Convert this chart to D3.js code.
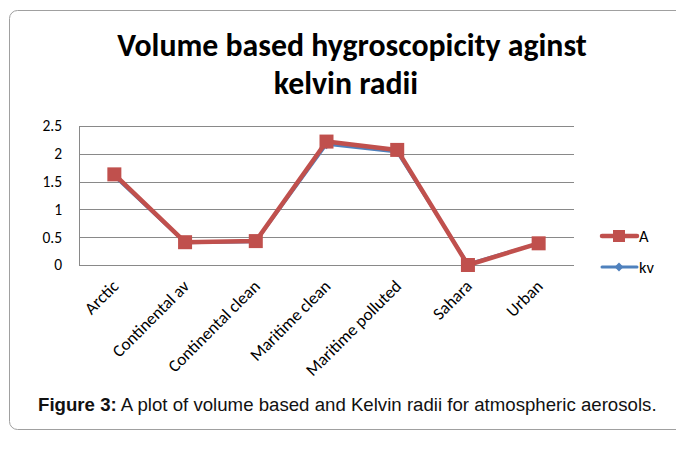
<!DOCTYPE html>
<html>
<head>
<meta charset="utf-8">
<script src="https://cdn.jsdelivr.net/npm/d3@7"></script>
<style>
  body { margin: 0; background: #fff; }
  svg { display: block; }
</style>
</head>
<body>
<div id="chart"></div>
<script>
const categories = ['Arctic', 'Continental av', 'Continental clean', 'Maritime clean', 'Maritime polluted', 'Sahara', 'Urban'];
const seriesA = [1.63, 0.41, 0.43, 2.22, 2.07, 0.0, 0.39];
const seriesKv = [1.60, 0.40, 0.42, 2.17, 2.03, 0.02, 0.39];
const yTicks = [0, 0.5, 1, 1.5, 2, 2.5];

const width = 676, height = 457;
const margin = { left: 79, right: 574, top: 126, bottom: 265 };
const red = '#C0504D', blue = '#4F81BD';
const font = 'Carlito, Open Sans, sans-serif';

const svg = d3.select('#chart').append('svg')
    .attr('width', width)
    .attr('height', height);

// outer frame
svg.append('rect')
    .attr('x', 9.5).attr('y', 10.5)
    .attr('width', 700).attr('height', 419)
    .attr('rx', 8)
    .attr('fill', 'none')
    .attr('stroke', '#a0a0a0')
    .attr('stroke-width', 1);

// title
const title = svg.append('text')
    .attr('text-anchor', 'middle')
    .attr('font-family', font)
    .attr('font-weight', 'bold')
    .attr('font-size', 31.8)
    .attr('fill', '#000');
title.append('tspan').attr('x', 352).attr('y', 56).text('Volume based hygroscopicity aginst');
title.append('tspan').attr('x', 346).attr('y', 94).text('kelvin radii');

const x = d3.scaleBand()
    .domain(categories)
    .range([margin.left, margin.right]);

const y = d3.scaleLinear()
    .domain([0, 2.5])
    .range([margin.bottom, margin.top]);

// gridlines
svg.append('g')
    .selectAll('line')
    .data(yTicks)
    .enter().append('line')
    .attr('x1', margin.left).attr('x2', margin.right)
    .attr('y1', d => Math.round(y(d)) + 0.5)
    .attr('y2', d => Math.round(y(d)) + 0.5)
    .attr('stroke', '#898989')
    .attr('stroke-width', 1);

// left axis line
svg.append('line')
    .attr('x1', margin.left + 0.5).attr('x2', margin.left + 0.5)
    .attr('y1', margin.top).attr('y2', margin.bottom + 1)
    .attr('stroke', '#898989');

// y axis labels
const yAxis = d3.axisLeft(y).tickValues(yTicks).tickSize(0).tickPadding(17)
    .tickFormat(d => String(d));
svg.append('g')
    .attr('transform', `translate(${margin.left},0)`)
    .call(yAxis)
    .call(g => g.select('.domain').remove())
    .selectAll('text')
    .attr('font-family', font)
    .attr('font-size', 15.5)
    .attr('fill', '#000');

// x axis labels, rotated
svg.append('g')
    .selectAll('text')
    .data(categories)
    .enter().append('text')
    .attr('transform', d => `translate(${x(d) + x.bandwidth() / 2 + 1},${margin.bottom + 18}) rotate(-45)`)
    .attr('text-anchor', 'end')
    .attr('dy', '0.35em')
    .attr('font-family', font)
    .attr('font-size', 17.2)
    .attr('fill', '#000')
    .text(d => d);

const line = d3.line()
    .x((d, i) => x(categories[i]) + x.bandwidth() / 2)
    .y(d => y(d));

// kv series (under)
svg.append('path')
    .datum(seriesKv)
    .attr('d', line)
    .attr('fill', 'none')
    .attr('stroke', blue)
    .attr('stroke-width', 3)
    .attr('stroke-linejoin', 'round');

svg.append('g')
    .selectAll('path')
    .data(seriesKv)
    .enter().append('path')
    .attr('transform', (d, i) => `translate(${x(categories[i]) + x.bandwidth() / 2},${y(d)})`)
    .attr('d', d3.symbol(d3.symbolDiamond2, 60))
    .attr('fill', blue);

// A series (over)
svg.append('path')
    .datum(seriesA)
    .attr('d', line)
    .attr('fill', 'none')
    .attr('stroke', red)
    .attr('stroke-width', 4.5)
    .attr('stroke-linejoin', 'round');

svg.append('g')
    .selectAll('rect')
    .data(seriesA)
    .enter().append('rect')
    .attr('x', (d, i) => x(categories[i]) + x.bandwidth() / 2 - 7)
    .attr('y', d => y(d) - 7)
    .attr('width', 14).attr('height', 14)
    .attr('fill', red);

// legend
const legend = svg.append('g');
const legendItems = [
    { name: 'A', color: red, w: 4.5, y: 236, marker: 'square' },
    { name: 'kv', color: blue, w: 3, y: 267, marker: 'diamond' }
];
legendItems.forEach(it => {
    legend.append('line')
        .attr('x1', 602).attr('x2', 637)
        .attr('y1', it.y).attr('y2', it.y)
        .attr('stroke', it.color)
        .attr('stroke-width', it.w)
        .attr('stroke-linecap', 'round');
    if (it.marker === 'square') {
        legend.append('rect')
            .attr('x', 613).attr('y', it.y - 6)
            .attr('width', 12).attr('height', 12)
            .attr('fill', it.color);
    } else {
        legend.append('path')
            .attr('transform', `translate(619,${it.y})`)
            .attr('d', d3.symbol(d3.symbolDiamond2, 50))
            .attr('fill', it.color);
    }
    legend.append('text')
        .attr('x', 639).attr('y', it.y)
        .attr('dy', '0.35em')
        .attr('font-family', font)
        .attr('font-size', 16.5)
        .attr('fill', '#000')
        .text(it.name);
});

// caption
const cap = svg.append('text')
    .attr('x', 38).attr('y', 411)
    .attr('font-family', 'Liberation Sans, Arial, sans-serif')
    .attr('font-size', 18.65)
    .attr('fill', '#111');
cap.append('tspan').attr('font-weight', 'bold').text('Figure 3:');
cap.append('tspan').text(' A plot of volume based and Kelvin radii for atmospheric aerosols.');
</script>
</body>
</html>
